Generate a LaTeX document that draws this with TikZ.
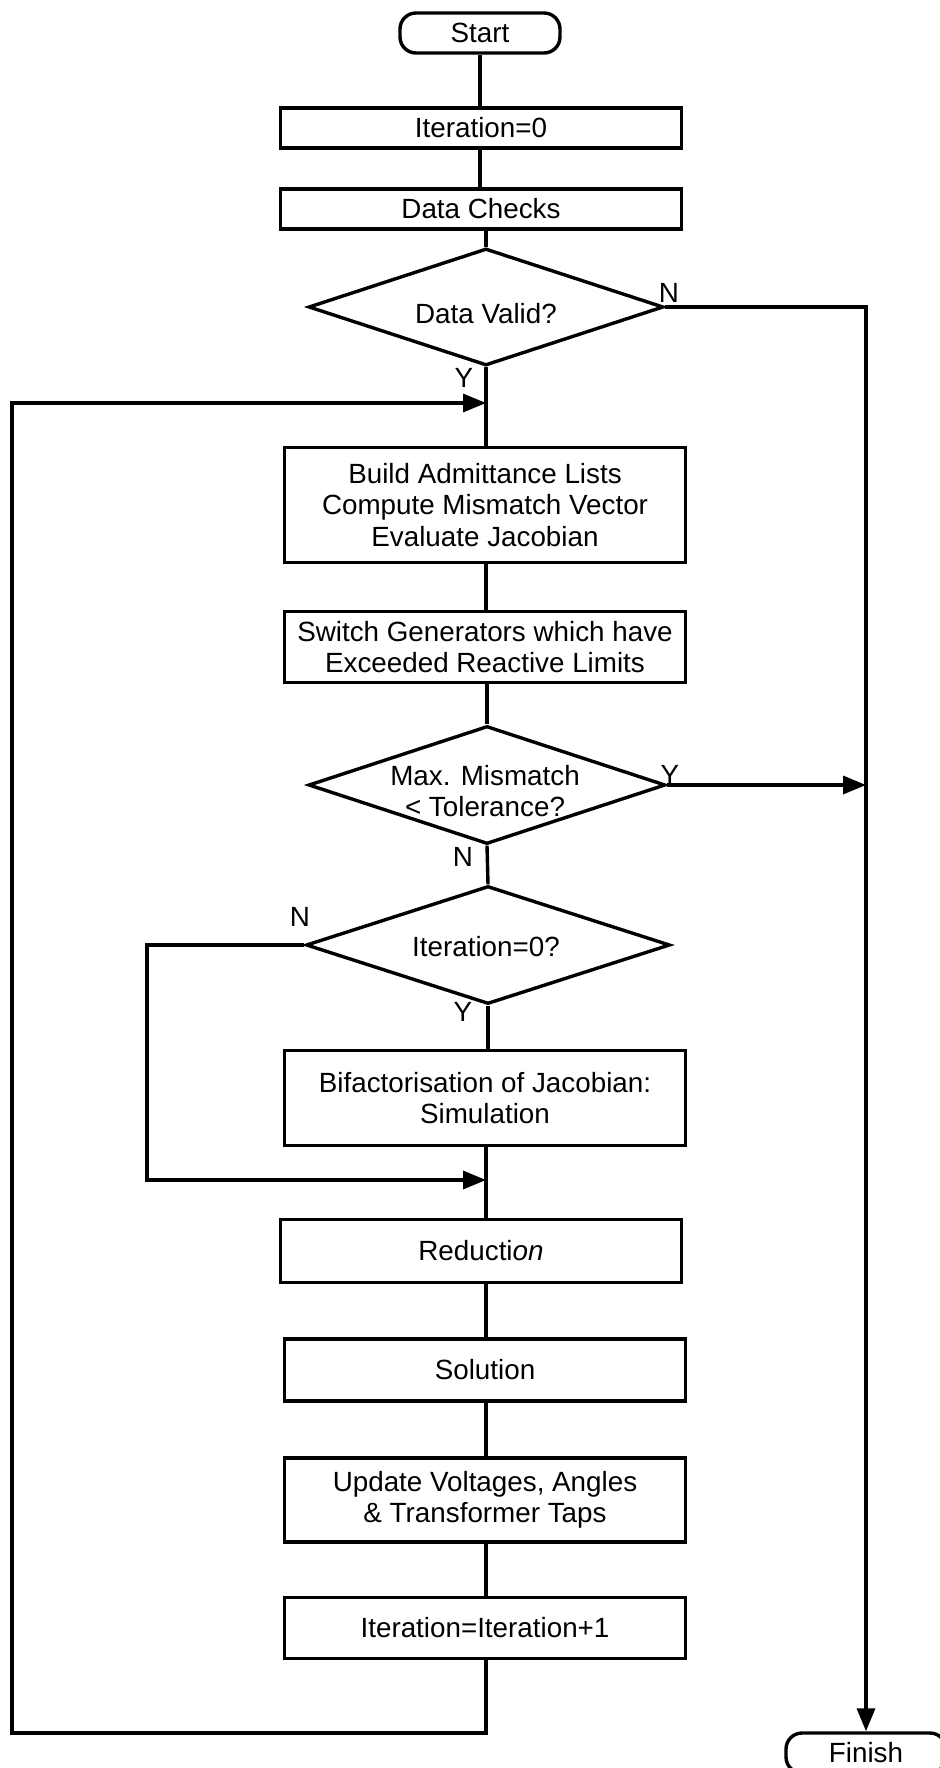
\documentclass[tikz,border=0pt]{standalone}
\usepackage{fontspec}
\setmainfont{Liberation Sans}
\usetikzlibrary{shapes.geometric,arrows.meta}
\tikzset{
  every node/.style={font=\fontsize{27.8}{31.5}\selectfont},
  conn/.style={line width=3.4pt},
  arr/.style={conn,-{Triangle[length=23pt,width=18pt]}},
  procbox/.style={draw,line width=3.4pt,rectangle,minimum width=401pt,inner sep=0pt,align=center},
  termbox/.style={draw,line width=3.4pt,rectangle,rounded corners=16pt,minimum width=160pt,minimum height=40pt,inner sep=0pt},
  decbox/.style={draw,line width=3.4pt,diamond,inner sep=0pt},
  dectext/.style={align=center,inner sep=0pt},
  yn/.style={inner sep=0pt}
}
\begin{document}
\begin{tikzpicture}[x=1pt,y=-1pt]
\useasboundingbox (0,0) rectangle (939,1768);
\fill[white] (0,0) rectangle (939,1768);
% nodes
\node[termbox] (start) at (480,33) {Start};
\node[procbox,minimum height=40pt] (iter0) at (481,128) {Iteration=0};
\node[procbox,minimum height=40pt] (checks) at (481,209) {Data Checks};
\node[decbox,minimum width=355pt,minimum height=117pt] (valid) at (486,307) {};
\node[dectext] (validt) at (486,314) {Data Valid?};
\node[procbox,minimum height=115pt] (build) at (485,505) {Build Admittance Lists\\Compute Mismatch Vector\\Evaluate Jacobian};
\node[procbox,minimum height=71pt] (switch) at (485,647) {Switch Generators which have\\Exceeded Reactive Limits};
\node[decbox,minimum width=357pt,minimum height=118pt] (mm) at (487,785) {};
\node[dectext] (mmt) at (485,791) {Max. Mismatch\\{<} Tolerance?};
\node[decbox,minimum width=364pt,minimum height=118pt] (itq) at (488,945) {};
\node[dectext] (itqt) at (486,947) {Iteration=0?};
\node[procbox,minimum height=95pt] (bif) at (485,1098) {Bifactorisation of Jacobian:\\Simulation};
\node[procbox,minimum height=63pt] (red) at (481,1251) {Reducti\textit{on}};
\node[procbox,minimum height=62pt] (sol) at (485,1370) {Solution};
\node[procbox,minimum height=84pt] (upd) at (485,1500) {Update Voltages, Angles\\\& Transformer Taps};
\node[procbox,minimum height=61pt] (inc) at (485,1628) {Iteration=Iteration+1};
\node[termbox] (finish) at (866,1753) {Finish};
% labels
\node[yn] (lvn) at (669,293) {N};
\node[yn] (lvy) at (464,378) {Y};
\node[yn] (lmy) at (670,775) {Y};
\node[yn] (lmn) at (463,857) {N};
\node[yn] (lin) at (300,917) {N};
\node[yn] (liy) at (463,1012) {Y};
% coordinates
\coordinate (loopin) at (486,403);
\coordinate (mergein) at (486,1180);
\coordinate (rightin) at (866,785);
% connectors
\draw[conn] (start.south) -- (start.south |- iter0.north);
\draw[conn] (iter0.south -| start.south) -- (checks.north -| start.south);
\draw[conn] (checks.south -| valid.north) -- (valid.north);
\draw[conn] (valid.south) -- (build.north -| valid.south);
\draw[arr] (valid.east) -- (866,307) -- (finish.north);
\draw[conn] (build.south -| valid.south) -- (switch.north -| valid.south);
\draw[conn] (switch.south -| mm.north) -- (mm.north);
\draw[arr] (mm.east) -- (rightin);
\draw[conn] (mm.south) -- (itq.north);
\draw[conn] (itq.south) -- (bif.north -| itq.south);
\draw[arr] (itq.west) -- (147,945) -- (147,1180) -- (mergein);
\draw[conn] (bif.south -| mergein) -- (red.north -| mergein);
\draw[conn] (red.south -| mergein) -- (sol.north -| mergein);
\draw[conn] (sol.south -| mergein) -- (upd.north -| mergein);
\draw[conn] (upd.south -| mergein) -- (inc.north -| mergein);
\draw[arr] (inc.south -| mergein) -- (486,1733) -- (12,1733) -- (12,403) -- (loopin);
\end{tikzpicture}
\end{document}
